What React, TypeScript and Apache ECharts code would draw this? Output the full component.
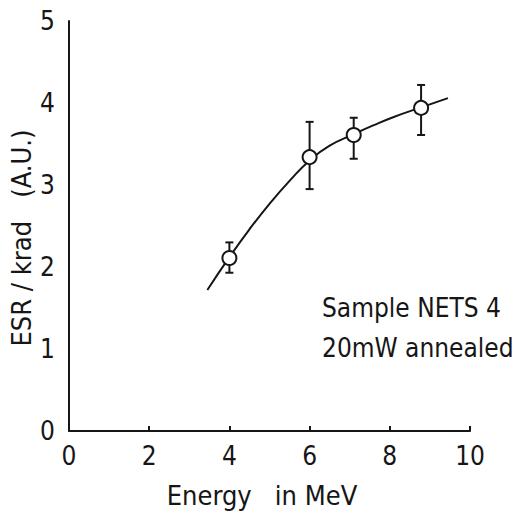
import React, { useEffect, useRef } from "react";
import * as echarts from "echarts";

const energy = [4.0, 6.0, 7.1, 8.78];
const esr = [2.11, 3.34, 3.61, 3.94];
const errLow = [1.93, 2.95, 3.32, 3.61];
const errHigh = [2.3, 3.77, 3.82, 4.22];

const curveE = [3.45, 4.0, 4.5, 5.0, 5.5, 6.0, 6.5, 7.1, 7.6, 8.1, 8.8, 9.45];
const curveV = [1.72, 2.12, 2.46, 2.77, 3.05, 3.3, 3.48, 3.62, 3.73, 3.83, 3.95, 4.06];

const FONT = "'Liberation Sans Narrow', 'DejaVu Sans Condensed', 'Liberation Sans', sans-serif";
const INK = "#161616";

export default function App() {
  const ref = useRef<HTMLDivElement>(null);
  useEffect(() => {
    if (!ref.current) return;
    const chart = echarts.init(ref.current, null, { renderer: "svg" });
    chart.setOption({
      animation: false,
      backgroundColor: "#ffffff",
      grid: { left: 69, right: 52, top: 21, bottom: 89, containLabel: false },
      xAxis: {
        type: "value",
        min: 0,
        max: 10,
        interval: 2,
        axisLine: { show: true, lineStyle: { color: INK, width: 2 } },
        axisTick: { show: true, inside: true, length: 5, lineStyle: { color: INK, width: 2 } },
        axisLabel: { color: INK, fontSize: 26, fontFamily: FONT, margin: 12 },
        splitLine: { show: false },
      },
      yAxis: {
        type: "value",
        min: 0,
        max: 5,
        interval: 1,
        axisLine: { show: true, lineStyle: { color: INK, width: 2 } },
        axisTick: { show: false },
        axisLabel: { color: INK, fontSize: 26, fontFamily: FONT, margin: 14 },
        splitLine: { show: false },
      },
      series: [
        {
          type: "line",
          data: curveE.map((e, i) => [e, curveV[i]]),
          smooth: 0.5,
          showSymbol: false,
          symbol: "none",
          lineStyle: { color: INK, width: 2 },
          z: 2,
        },
        {
          type: "custom",
          data: energy.map((e, i) => [e, errLow[i], errHigh[i]]),
          renderItem: (params: any, api: any) => {
            const x = api.value(0);
            const lo = api.coord([x, api.value(1)]);
            const hi = api.coord([x, api.value(2)]);
            const w = 4;
            const st = { stroke: INK, lineWidth: 2 };
            return {
              type: "group",
              children: [
                { type: "line", shape: { x1: lo[0], y1: lo[1], x2: hi[0], y2: hi[1] }, style: st },
                { type: "line", shape: { x1: lo[0] - w, y1: lo[1], x2: lo[0] + w, y2: lo[1] }, style: st },
                { type: "line", shape: { x1: hi[0] - w, y1: hi[1], x2: hi[0] + w, y2: hi[1] }, style: st },
              ],
            };
          },
          z: 3,
        },
        {
          type: "scatter",
          data: energy.map((e, i) => [e, esr[i]]),
          symbol: "circle",
          symbolSize: 14,
          itemStyle: { color: "#ffffff", borderColor: INK, borderWidth: 2, opacity: 1 },
          z: 5,
        },
      ],
      graphic: [
        {
          type: "text",
          x: 21,
          y: 238,
          rotation: Math.PI / 2,
          style: {
            text: "ESR / krad   (A.U.)",
            fontSize: 27,
            fontFamily: FONT,
            fill: INK,
            align: "center",
            verticalAlign: "middle",
          },
        },
        {
          type: "text",
          x: 262,
          y: 495,
          style: {
            text: "Energy   in MeV",
            fontSize: 27,
            fontFamily: FONT,
            fill: INK,
            align: "center",
            verticalAlign: "middle",
          },
        },
        {
          type: "text",
          x: 322,
          y: 308,
          style: {
            text: "Sample NETS 4",
            fontSize: 26,
            fontFamily: FONT,
            fill: INK,
            align: "left",
            verticalAlign: "middle",
          },
        },
        {
          type: "text",
          x: 322,
          y: 348,
          style: {
            text: "20mW annealed",
            fontSize: 26,
            fontFamily: FONT,
            fill: INK,
            align: "left",
            verticalAlign: "middle",
          },
        },
      ],
    });
    return () => chart.dispose();
  }, []);
  return (
    <div
      ref={ref}
      style={{ position: "fixed", left: 0, top: 0, width: 522, height: 520 }}
    />
  );
}
